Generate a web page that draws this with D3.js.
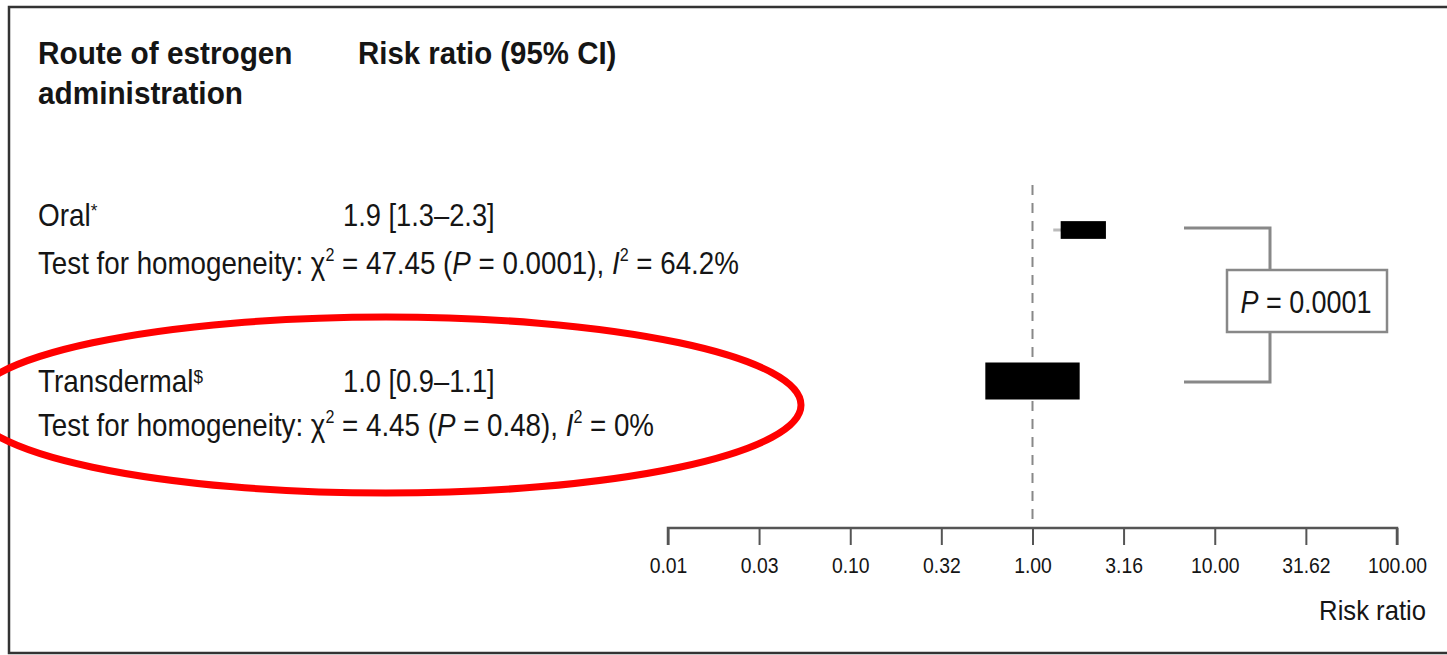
<!DOCTYPE html>
<html>
<head>
<meta charset="utf-8">
<script src="https://cdn.jsdelivr.net/npm/d3@7/dist/d3.min.js"></script>
<style>
  html, body { margin: 0; padding: 0; background: #fff; }
  svg { display: block; }
  text { font-family: "Liberation Sans", Arial, Helvetica, sans-serif; fill: #151515; }
</style>
</head>
<body>
<svg id="chart" width="1447" height="655"></svg>
<script>
// Pooled risk ratios by route of estrogen administration
const routes      = ["Oral", "Transdermal"];
const routeMarks  = ["*", "$"];
const estimates   = [1.9, 1.0];
const ciLower     = [1.3, 0.9];
const ciUpper     = [2.3, 1.1];
const weights     = [0.23, 1.0];   // relative weight of each pooled estimate
const chiSquares  = ["47.45", "4.45"];
const hetP        = ["0.0001", "0.48"];
const iSquares    = ["64.2%", "0%"];
const interactionP = "0.0001";

const tickValues = [0.01, 0.0316, 0.1, 0.316, 1, 3.16, 10, 31.62, 100];
const tickLabels = ["0.01", "0.03", "0.10", "0.32", "1.00", "3.16", "10.00", "31.62", "100.00"];

const svg = d3.select("#chart");
const W = 1447, H = 655;

// narrow-set text: anchor at (x, y) and squeeze horizontally
function narrowText(parent, px, py, size, sx) {
  return parent.append("text")
    .attr("transform", `translate(${px},${py}) scale(${sx},1)`)
    .style("font-size", size + "px");
}

// outer frame (open on the right)
svg.append("path")
  .attr("d", `M${W + 5},7 H9 V653 H${W + 5}`)
  .attr("fill", "none").attr("stroke", "#333").attr("stroke-width", 2.5);

const x = d3.scaleLog().domain([0.01, 100]).range([668, 1397]);
const rowY = [230, 381];           // vertical centre of each estimate
const textY = [226, 392];          // baseline of the route label
const hetY  = [274, 436];          // baseline of the heterogeneity line
const axisY = 528;

// column headers
const hdr = svg.append("g").attr("font-weight", "bold");
narrowText(hdr, 38, 64, 32, 0.93).text("Route of estrogen");
narrowText(hdr, 38, 104, 32, 0.93).text("administration");
narrowText(hdr, 358, 64, 32, 0.92).text("Risk ratio (95% CI)");

// row text
routes.forEach((r, i) => {
  const t = narrowText(svg, 38, textY[i], 31, 0.9);
  t.append("tspan").text(r);
  t.append("tspan").attr("dy", -9).style("font-size", "19px").text(routeMarks[i]);

  narrowText(svg, 343, textY[i], 31, 0.88)
    .text(`${estimates[i].toFixed(1)} [${ciLower[i].toFixed(1)}\u2013${ciUpper[i].toFixed(1)}]`);

  const h = narrowText(svg, 38, hetY[i], 31, 0.895);
  h.append("tspan").text("Test for homogeneity: \u03C7");
  h.append("tspan").attr("dy", -13).style("font-size", "18px").text("2");
  h.append("tspan").attr("dy", 13).text(` = ${chiSquares[i]} (`);
  h.append("tspan").attr("font-style", "italic").text("P");
  h.append("tspan").text(` = ${hetP[i]}), `);
  h.append("tspan").attr("font-style", "italic").text("I");
  h.append("tspan").attr("dy", -13).style("font-size", "18px").text("2");
  h.append("tspan").attr("dy", 13).text(` = ${iSquares[i]}`);
});

// line of no effect
svg.append("line")
  .attr("x1", x(1)).attr("x2", x(1)).attr("y1", 185).attr("y2", axisY)
  .attr("stroke", "#888").attr("stroke-width", 2).attr("stroke-dasharray", "10,8");

// confidence intervals and weighted boxes
const boxH = d3.scaleSqrt().domain([0, 1]).range([0, 37]);
routes.forEach((r, i) => {
  svg.append("line")
    .attr("x1", x(ciLower[i])).attr("x2", x(ciUpper[i]))
    .attr("y1", rowY[i]).attr("y2", rowY[i])
    .attr("stroke", "#bbb").attr("stroke-width", 3);
  const h = boxH(weights[i]), w = h * 2.55;
  svg.append("rect")
    .attr("x", x(estimates[i]) - w / 2).attr("y", rowY[i] - h / 2)
    .attr("width", w).attr("height", h)
    .attr("fill", "#000");
});

// bracket comparing the two routes
const br = svg.append("g").attr("fill", "none").attr("stroke", "#888").attr("stroke-width", 3);
br.append("path").attr("d", `M1184,${rowY[0] - 2} H1270 V270`);
br.append("path").attr("d", `M1184,${rowY[1] + 1} H1270 V332`);
svg.append("rect").attr("x", 1227).attr("y", 270).attr("width", 160).attr("height", 62)
  .attr("fill", "#fff").attr("stroke", "#888").attr("stroke-width", 2.5);
const pt = narrowText(svg, 1306, 313, 31, 0.87).attr("text-anchor", "middle");
pt.append("tspan").attr("font-style", "italic").text("P");
pt.append("tspan").text(` = ${interactionP}`);

// log axis
const axis = d3.axisBottom(x).tickValues(tickValues).tickSize(17)
  .tickFormat((d, i) => tickLabels[i]);
const ag = svg.append("g").attr("transform", `translate(0,${axisY})`).call(axis);
ag.select(".domain").attr("stroke", "#555").attr("stroke-width", 2.5)
  .attr("d", `M${x(0.01)},17V0H${x(100)}V17`);
ag.selectAll(".tick line").attr("stroke", "#555").attr("stroke-width", 2);
ag.selectAll(".tick text")
  .attr("y", null).attr("dy", null)
  .attr("transform", "translate(0,45) scale(0.88,1)")
  .style("font-size", "22px").style("font-family", null).attr("fill", "#151515");
narrowText(svg, 1426, 620, 27, 0.95).attr("text-anchor", "end").text("Risk ratio");

// highlight around the transdermal row
svg.append("ellipse")
  .attr("cx", 386).attr("cy", 405).attr("rx", 415).attr("ry", 88)
  .attr("fill", "none").attr("stroke", "#ff0000").attr("stroke-width", 7);
</script>
</body>
</html>
